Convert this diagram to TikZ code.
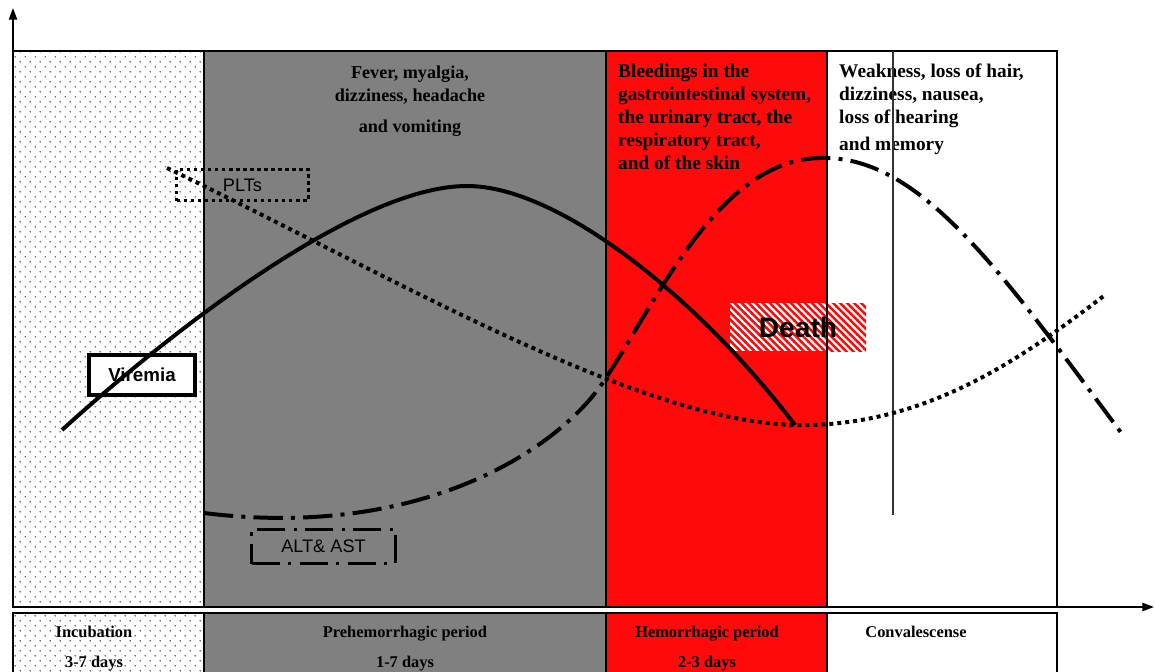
\documentclass[tikz,border=0pt]{standalone}
\usepackage{fontspec}
\setmainfont{Liberation Serif}
\setsansfont{Liberation Sans}
\usepackage{xcolor}
\usepackage{tikz}
\usetikzlibrary{arrows.meta, patterns}
\definecolor{hemred}{RGB}{255, 10, 10}
\definecolor{pregray}{RGB}{128, 128, 128}
\definecolor{dotgray}{RGB}{70, 70, 70}

\pgfdeclarepatternformonly{sparsedots}{\pgfpointorigin}{\pgfqpoint{8.5pt}{8.5pt}}{\pgfqpoint{8.5pt}{8.5pt}}{%
  \pgfpathcircle{\pgfqpoint{1pt}{1pt}}{0.65pt}%
  \pgfpathcircle{\pgfqpoint{5.25pt}{5.25pt}}{0.65pt}%
  \pgfusepath{fill}}
\pgfdeclarepatternformonly{widestripes}{\pgfqpoint{-1pt}{-1pt}}{\pgfqpoint{7pt}{7pt}}{\pgfqpoint{6pt}{6pt}}{%
  \pgfsetlinewidth{2.1pt}%
  \pgfpathmoveto{\pgfqpoint{-1pt}{7pt}}%
  \pgfpathlineto{\pgfqpoint{7pt}{-1pt}}%
  \pgfusepath{stroke}}

\begin{document}
\begin{tikzpicture}[
    x=0.3mm, y=-0.3mm,
    panel/.style={draw=black, line width=1.1pt},
    axisarrow/.style={line width=1.6pt, -{Triangle[length=10pt, width=7pt]}},
    symtext/.style={
        font=\bfseries\fontsize{16.5}{19.6}\selectfont,
        align=left, anchor=north west, inner sep=0pt
    },
    stagetext/.style={
        font=\bfseries\fontsize{14}{25.6}\selectfont,
        align=center, anchor=north, inner sep=0pt
    },
    labelbox/.style={
        rectangle, draw=black, inner sep=0pt,
        font=\sffamily\fontsize{15.5}{18}\selectfont
    },
    trend/.style={line width=3.4pt},
    dashdot/.style={dash pattern=on 25pt off 7pt on 3.4pt off 7pt}
]

\useasboundingbox (0,0) rectangle (1155,672);
\clip (0,0) rectangle (1155,672);

% stage columns
\fill[white] (13,51) rectangle (1057,607);
\fill[pattern=sparsedots, pattern color=dotgray] (13,51) rectangle (204,607);
\fill[pregray] (204,51) rectangle (606,607);
\fill[hemred] (606,51) rectangle (827,607);

\fill[white] (13,613) rectangle (1057,680);
\fill[pattern=sparsedots, pattern color=dotgray] (13,613) rectangle (204,680);
\fill[pregray] (204,613) rectangle (606,680);
\fill[hemred] (606,613) rectangle (827,680);

\node[preaction={fill=white}, pattern=widestripes, pattern color=hemred,
      minimum width=40.8mm, minimum height=14.4mm, inner sep=0pt,
      font=\sffamily\bfseries\fontsize{24}{28}\selectfont] (death) at (798,327) {Death};

\draw[panel] (13,51) rectangle (1057,607);
\draw[panel] (204,51) -- (204,607) (606,51) -- (606,607) (827,51) -- (827,607);
\draw[panel] (13,680) -- (13,613) -- (1057,613) -- (1057,680);
\draw[panel] (204,613) -- (204,680) (606,613) -- (606,680) (827,613) -- (827,680);

% axes
\coordinate (origin) at (13,607);
\coordinate (ytop) at (13,8);
\coordinate (xend) at (1154,607);
\draw[axisarrow] (origin) -- (ytop);
\draw[axisarrow] (origin) -- (xend);

% symptoms
\node[symtext, anchor=north, align=center, font=\bfseries\fontsize{15.5}{19.6}\selectfont] (fever) at (410,66)
    {Fever, myalgia,\\ dizziness, headache\\[7pt] and vomiting};
\node[symtext] (bleed) at (618,64)
    {Bleedings in the\\ gastrointestinal system,\\ the urinary tract, the\\ respiratory tract,\\ and of the skin};
\node[symtext] (weak) at (839,64)
    {Weakness, loss of hair,\\ dizziness, nausea,\\ loss of hearing\\[3.4pt] and memory};

\coordinate (marktop) at (893,51);
\coordinate (markbot) at (893,515);
\draw[line width=1pt, black!80] (marktop) -- (markbot);

% stage names
\node[stagetext] (incub) at (94,626) {Incubation\\ 3-7 days};
\node[stagetext] (prehem) at (405,626) {Prehemorrhagic period\\ 1-7 days};
\node[stagetext] (hem) at (707,626) {Hemorrhagic period\\ 2-3 days};
\node[stagetext] (conv) at (916,626) {Convalescense};

% curve labels
\node[labelbox, fill=white, line width=3.4pt, font=\sffamily\bfseries\fontsize{16}{18}\selectfont,
      minimum width=31.8mm, minimum height=12mm] (viremia) at (142,375) {Viremia};
\node[labelbox, line width=3pt, dash pattern=on 3pt off 3pt,
      minimum width=39.6mm, minimum height=9.3mm] (plts) at (242.5,185) {PLTs};
\node[labelbox, line width=2.8pt, dash pattern=on 24pt off 7pt on 3pt off 7pt,
      minimum width=43.2mm, minimum height=10.2mm] (altast) at (323.5,546.5) {ALT\& AST};

% curves
\draw[trend] (62,430) .. controls (150,350) and (350,186) .. (467,186)
    .. controls (560,186) and (700,300) .. (795,425);
\draw[trend, dash pattern=on 3.4pt off 3.4pt] (167,168) .. controls (400,280) and (650,430) .. (810,425)
    .. controls (930,422) and (1020,360) .. (1105,295);
\draw[trend, dashdot] (204,513) .. controls (420,540) and (560,450) .. (606,378)
    .. controls (660,295) and (720,160) .. (820,158)
    .. controls (920,155) and (1000,270) .. (1125,438);

\end{tikzpicture}
\end{document}
